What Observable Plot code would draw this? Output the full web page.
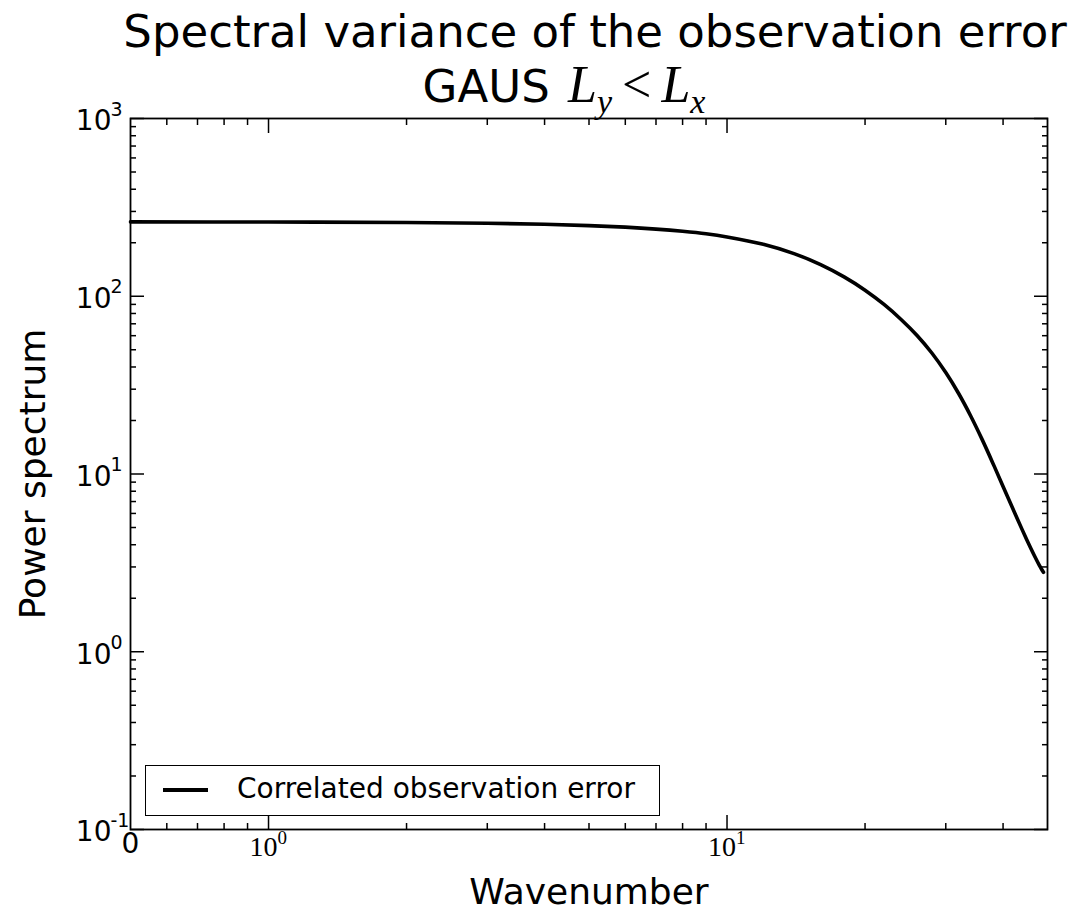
<!DOCTYPE html>
<html><head><meta charset="utf-8">
<script src="https://cdn.jsdelivr.net/npm/d3@7"></script>
<script src="https://cdn.jsdelivr.net/npm/@observablehq/plot@0.6"></script>
<style>
body{margin:0;background:#fff;font-family:"DejaVu Sans",sans-serif;}
#wrap{position:relative;width:1075px;height:913px;overflow:hidden;}
.title{position:absolute;white-space:nowrap;transform:translateX(-50%);font-size:45px;line-height:45px;color:#000;}
.m{font-family:"Liberation Serif",serif;font-style:italic;font-size:52px;margin-left:4px;}
.m sub{font-size:34px;vertical-align:-11px;line-height:0;}
.lt{font-family:"Liberation Serif",serif;font-style:normal;margin:0 10px 0 10px;font-size:52px;}
#chart{position:absolute;left:0;top:0;}
#legend{position:absolute;left:145px;top:765px;width:513px;height:49px;border:1.5px solid #000;background:#fff;}
#legend .ln{position:absolute;left:17px;top:22px;width:45px;height:4px;background:#000;}
#legend .tx{position:absolute;left:91px;top:5px;font-size:28px;line-height:36px;white-space:nowrap;}
</style></head><body>
<div id="wrap">
  <div id="chart"></div>
  <div class="title" style="left:595px;top:9px;">Spectral variance of the observation error</div>
  <div class="title" style="left:564px;top:62px;">GAUS <span class="m">L<sub>y</sub><span class="lt">&lt;</span>L<sub>x</sub></span></div>
  <div id="legend"><div class="ln"></div><div class="tx">Correlated observation error</div></div>
</div>
<script>
// Data
const wavenumber = [0.5, 1, 2, 3, 4, 5, 6, 7, 8, 9, 10, 12, 14, 16, 18, 20, 22, 24, 26, 28, 30, 32, 34, 36, 38, 40, 42, 44, 45, 46, 47, 48, 48.5, 49];
const power = [262, 261.5, 260, 257.6, 254.2, 249.8, 244.7, 238.7, 232, 224.6, 215.6, 195.9, 173.6, 150.7, 128.5, 108.2, 89.9, 73.8, 60, 47.8, 37.2, 28.37, 21.21, 15.66, 11.51, 8.5, 6.39, 4.88, 4.3, 3.81, 3.4, 3.06, 2.92, 2.8];

// Ticks
const yMajor = [0.1, 1, 10, 100, 1000];
const yMinor = [];
for (const d of [0.1, 1, 10, 100]) for (let m = 2; m <= 9; m++) yMinor.push(+(d * m).toPrecision(3));
const xMajor = [1, 10];
const xMinor = [0.6, 0.7, 0.8, 0.9, 2, 3, 4, 5, 6, 7, 8, 9, 20, 30, 40];
const xZero = [0.5];
const xZeroLabel = ["0"];

const data = wavenumber.map((k, i) => ({k, p: power[i]}));
const expo = v => String(Math.round(Math.log10(v)));

const chart = Plot.plot({
  width: 1075, height: 913,
  marginLeft: 130, marginRight: 28, marginTop: 118, marginBottom: 84,
  style: {background: "transparent", fontFamily: "DejaVu Sans", color: "#000", overflow: "visible"},
  x: {type: "log", domain: [0.5, 50]},
  y: {type: "log", domain: [0.1, 1000]},
  marks: [
    Plot.line(data, {x: "k", y: "p", stroke: "#000", strokeWidth: 3.6, curve: "catmull-rom"}),
    // inward ticks
    Plot.axisY({anchor: "left", ticks: yMajor, tickSize: -14, tickFormat: () => "", label: null, strokeWidth: 1.5}),
    Plot.axisY({anchor: "right", ticks: yMajor, tickSize: -14, tickFormat: () => "", label: null, strokeWidth: 1.5}),
    Plot.axisY({anchor: "left", ticks: yMinor, tickSize: -6, tickFormat: () => "", label: null, strokeWidth: 1.5}),
    Plot.axisY({anchor: "right", ticks: yMinor, tickSize: -6, tickFormat: () => "", label: null, strokeWidth: 1.5}),
    Plot.axisX({anchor: "bottom", ticks: xMajor, tickSize: -14, tickFormat: () => "", label: null, strokeWidth: 1.5}),
    Plot.axisX({anchor: "top", ticks: xMajor, tickSize: -14, tickFormat: () => "", label: null, strokeWidth: 1.5}),
    Plot.axisX({anchor: "bottom", ticks: xMinor, tickSize: -6, tickFormat: () => "", label: null, strokeWidth: 1.5}),
    Plot.axisX({anchor: "top", ticks: xMinor, tickSize: -6, tickFormat: () => "", label: null, strokeWidth: 1.5}),
    // y tick labels: "10" + exponent
    Plot.text(yMajor, {y: d => d, frameAnchor: "left", text: () => "10", textAnchor: "end", dx: -19, dy: 3, fontSize: 28}),
    Plot.text(yMajor, {y: d => d, frameAnchor: "left", text: expo, textAnchor: "start", dx: -20, dy: -9, fontSize: 19}),
    // x tick labels
    Plot.text(xZero, {x: d => d, frameAnchor: "bottom", text: (d, i) => xZeroLabel[i], dy: 23, fontSize: 28}),
    Plot.text(xMajor, {x: d => d, frameAnchor: "bottom", text: () => "10", textAnchor: "end", dx: 9, dy: 26, fontSize: 28, fontFamily: "Liberation Serif"}),
    Plot.text(xMajor, {x: d => d, frameAnchor: "bottom", text: expo, textAnchor: "start", dx: 9, dy: 14, fontSize: 19, fontFamily: "Liberation Serif"}),
    // axis labels
    Plot.text(["Wavenumber"], {frameAnchor: "bottom", text: d => d, dy: 74, fontSize: 36}),
    Plot.text(["Power spectrum"], {frameAnchor: "left", text: d => d, textAnchor: "middle", rotate: -90, dx: -97, fontSize: 36}),
    Plot.frame({stroke: "#000", strokeWidth: 1.8})
  ]
});
document.getElementById("chart").appendChild(chart);
</script>
</body></html>
